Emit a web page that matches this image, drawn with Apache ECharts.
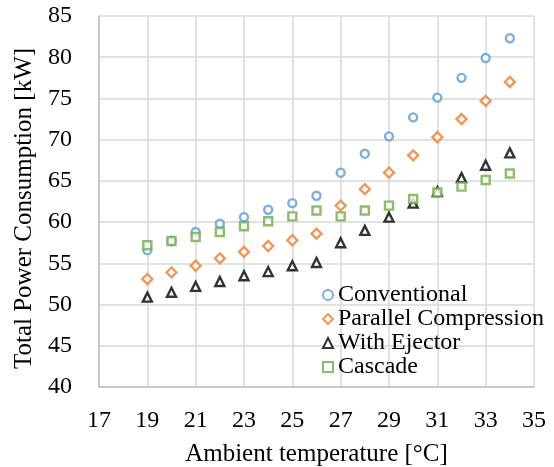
<!DOCTYPE html>
<html><head><meta charset="utf-8">
<script src="https://cdn.jsdelivr.net/npm/echarts@6/dist/echarts.min.js"></script>
<style>html,body{margin:0;padding:0;background:#fff}#c{width:554px;height:467px}</style>
</head><body><div id="c"></div>
<script>
var temps = [19,20,21,22,23,24,25,26,27,28,29,30,31,32,33,34];
var conventional = [56.6,57.7,58.8,59.8,60.6,61.5,62.3,63.2,66.0,68.3,70.4,72.7,75.1,77.5,79.9,82.3];
var parallelCompression = [53.1,53.9,54.7,55.6,56.4,57.1,57.8,58.6,62.0,64.0,66.0,68.1,70.3,72.5,74.7,77.0];
var withEjector = [50.9,51.5,52.2,52.8,53.5,54.0,54.7,55.1,57.5,59.0,60.6,62.3,63.7,65.4,66.9,68.4];
var cascade = [57.2,57.7,58.2,58.8,59.5,60.1,60.7,61.4,60.7,61.4,62.0,62.8,63.6,64.3,65.1,65.9];
var xTicks = {min:17, max:35, interval:2};
var yTicks = {min:40, max:85, interval:5};

var font = "'Liberation Serif', 'Times New Roman', serif";
function pairs(v){ return temps.map(function(t,i){ return [t, v[i]]; }); }
function ser(name, data, symbol, color, size){
  return {name:name, type:'scatter', data:pairs(data), symbol:symbol, symbolSize:size,
    itemStyle:{color:'#fff', borderColor:color, borderWidth:2.4}};
}
var chart = echarts.init(document.getElementById('c'));
chart.setOption({
  animation:false,
  backgroundColor:'#fff',
  grid:{left:99, right:20, top:16, bottom:80, containLabel:false, outerBoundsMode:'none'},
  xAxis:{type:'value', min:xTicks.min, max:xTicks.max, interval:xTicks.interval,
    name:'Ambient temperature [°C]', nameLocation:'middle', nameGap:55,
    nameTextStyle:{fontFamily:font, fontSize:25, color:'#000'},
    axisLine:{lineStyle:{color:'#bfbfbf', width:1.5}}, axisTick:{show:false},
    axisLabel:{fontFamily:font, fontSize:24, color:'#000', margin:22},
    splitLine:{show:true, lineStyle:{color:'#d9d9d9', width:1.5}}},
  yAxis:{type:'value', min:yTicks.min, max:yTicks.max, interval:yTicks.interval,
    name:'Total Power Consumption [kW]', nameLocation:'middle', nameGap:62,
    nameTextStyle:{fontFamily:font, fontSize:25, color:'#000', padding:[0,14,0,0]},
    axisLine:{show:true, lineStyle:{color:'#bfbfbf', width:1.5}}, axisTick:{show:false},
    axisLabel:{fontFamily:font, fontSize:24, color:'#000', margin:27},
    splitLine:{show:true, lineStyle:{color:'#d9d9d9', width:1.5}}},
  legend:{orient:'vertical', left:317, top:278, itemWidth:10, itemHeight:10, itemGap:0,
    textStyle:{fontFamily:font, fontSize:24, color:'#000', lineHeight:24},
    data:['Conventional','Parallel Compression','With Ejector','Cascade']},
  series:[
    ser('Conventional', conventional, 'circle', '#5B9BD5', 8),
    ser('Parallel Compression', parallelCompression, 'diamond', '#ED7D31', 10),
    ser('With Ejector', withEjector, 'triangle', '#000000', 9),
    ser('Cascade', cascade, 'rect', '#70AD47', 8)
  ]
});
</script></body></html>
